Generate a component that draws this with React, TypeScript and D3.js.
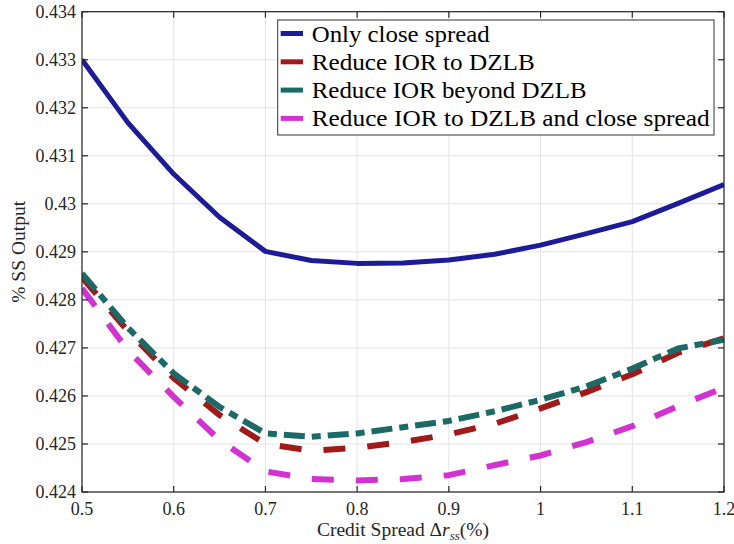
import React from "react";
import * as d3 from "d3";

const xVals = [0.5, 0.55, 0.6, 0.65, 0.7, 0.75, 0.8, 0.85, 0.9, 0.95, 1.0, 1.05, 1.1, 1.15, 1.2];
const onlyClose = [0.433, 0.43169, 0.43062, 0.42972, 0.42901, 0.42882, 0.42876, 0.42877, 0.42883, 0.42895, 0.42914, 0.42938, 0.42963, 0.43001, 0.4304];
const reduceToDZLB = [0.42847, 0.42735, 0.42637, 0.4256, 0.425, 0.42486, 0.42492, 0.42504, 0.4252, 0.42542, 0.42574, 0.42608, 0.42645, 0.4269, 0.4272];
const reduceBeyond = [0.42855, 0.42742, 0.42647, 0.42577, 0.42522, 0.42515, 0.42522, 0.42535, 0.42548, 0.42568, 0.42592, 0.4262, 0.42657, 0.42699, 0.42717];
const reduceAndClose = [0.42824, 0.42695, 0.42598, 0.42508, 0.42443, 0.42427, 0.42424, 0.42427, 0.42435, 0.42456, 0.42476, 0.42504, 0.42537, 0.42579, 0.42617];

const seriesNames = [
  "Only close spread",
  "Reduce IOR to DZLB",
  "Reduce IOR beyond DZLB",
  "Reduce IOR to DZLB and close spread",
];
const seriesColors = ["#1c1c98", "#a01a1a", "#1b6a66", "#d232d2"];
const seriesDash = ["none", "22 22", "21 7 9 7", "22 22"];
const seriesWidth = [5, 6, 6, 6];

const xTicks = [0.5, 0.6, 0.7, 0.8, 0.9, 1.0, 1.1, 1.2];
const xTickLabels = ["0.5", "0.6", "0.7", "0.8", "0.9", "1", "1.1", "1.2"];
const yTicks = [0.424, 0.425, 0.426, 0.427, 0.428, 0.429, 0.43, 0.431, 0.432, 0.433, 0.434];
const yTickLabels = ["0.424", "0.425", "0.426", "0.427", "0.428", "0.429", "0.43", "0.431", "0.432", "0.433", "0.434"];

const W = 734;
const H = 544;
const L = 82, R = 724, T = 11.7, B = 492;
const FONT = "Liberation Serif, DejaVu Serif, serif";
const fontStyle = { fontFamily: FONT };

export default function App() {
  const x = d3.scaleLinear().domain([0.5, 1.2]).range([L, R]);
  const y = d3.scaleLinear().domain([0.424, 0.434]).range([B, T]);
  const allSeries = [onlyClose, reduceToDZLB, reduceBeyond, reduceAndClose];
  const line = d3
    .line<number>()
    .x((_, i) => x(xVals[i]))
    .y((d) => y(d));

  const axisColor = "#262626";
  const legX = 277.7, legY = 20, legW = 436.3, legH = 115;
  const legendLens = [178, 223, 275, 398];

  return (
    <svg
      width={W}
      height={H}
      style={{ position: "absolute", left: 0, top: 0, background: "#fff", fontFamily: FONT }}
    >
      <rect x={0} y={0} width={W} height={H} fill="#fff" />
      <defs>
        <clipPath id="plotclip">
          <rect x={L} y={T} width={R - L} height={B - T} />
        </clipPath>
      </defs>
      {xTicks.map((t, i) => (
        <line key={"gx" + i} x1={x(t)} x2={x(t)} y1={T} y2={B} stroke="#e3e3e3" strokeWidth={1} />
      ))}
      {yTicks.map((t, i) => (
        <line key={"gy" + i} x1={L} x2={R} y1={y(t)} y2={y(t)} stroke="#e3e3e3" strokeWidth={1} />
      ))}
      <g clipPath="url(#plotclip)">
        {allSeries.map((s, i) => (
          <path
            key={"s" + i}
            d={line(s) || ""}
            fill="none"
            stroke={seriesColors[i]}
            strokeWidth={seriesWidth[i]}
            strokeDasharray={seriesDash[i]}
            strokeLinejoin="round"
            strokeLinecap="butt"
          />
        ))}
      </g>
      <rect x={L} y={T} width={R - L} height={B - T} fill="none" stroke={axisColor} strokeWidth={1.2} />
      {xTicks.map((t, i) => (
        <g key={"tx" + i}>
          <line x1={x(t)} x2={x(t)} y1={B} y2={B - 6} stroke={axisColor} strokeWidth={1.2} />
          <line x1={x(t)} x2={x(t)} y1={T} y2={T + 6} stroke={axisColor} strokeWidth={1.2} />
          <text x={x(t)} y={508.5} fontSize={18} textAnchor="middle" dominantBaseline="central" fill="#262626" style={fontStyle}>
            {xTickLabels[i]}
          </text>
        </g>
      ))}
      {yTicks.map((t, i) => (
        <g key={"ty" + i}>
          <line x1={L} x2={L + 6} y1={y(t)} y2={y(t)} stroke={axisColor} strokeWidth={1.2} />
          <line x1={R} x2={R - 6} y1={y(t)} y2={y(t)} stroke={axisColor} strokeWidth={1.2} />
          <text x={76} y={y(t)} fontSize={18} textAnchor="end" dominantBaseline="central" fill="#262626" style={fontStyle}>
            {yTickLabels[i]}
          </text>
        </g>
      ))}
      <text x={(L + R) / 2} y={536} fontSize={19.5} textAnchor="middle" fill="#262626" style={fontStyle}>
        Credit Spread Δ
        <tspan fontStyle="italic">r</tspan>
        <tspan fontStyle="italic" fontSize={13} dy={4}>ss</tspan>
        <tspan dy={-4}>(%)</tspan>
      </text>
      <text
        transform={`translate(25,${(T + B) / 2}) rotate(-90)`}
        fontSize={19.5}
        textAnchor="middle"
        fill="#262626"
        style={fontStyle}
      >
        % SS Output
      </text>
      <rect x={legX} y={legY} width={legW} height={legH} fill="#fff" stroke="#333" strokeWidth={1} />
      {seriesNames.map((name, i) => {
        const cy = 33.5 + i * 28.3;
        return (
          <g key={"lg" + i}>
            <line x1={280.7} x2={303} y1={cy} y2={cy} stroke={seriesColors[i]} strokeWidth={5} />
            <text
              x={311.7}
              y={cy}
              fontSize={23.5}
              dominantBaseline="central"
              fill="#000"
              textLength={legendLens[i]}
              lengthAdjust="spacingAndGlyphs"
              style={fontStyle}
            >
              {name}
            </text>
          </g>
        );
      })}
    </svg>
  );
}
